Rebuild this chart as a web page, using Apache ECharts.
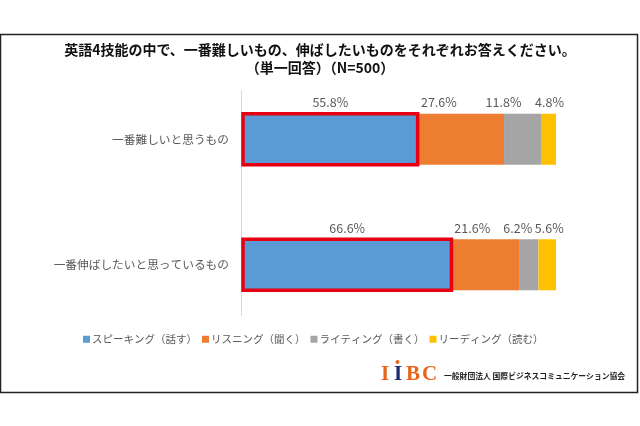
<!DOCTYPE html>
<html>
<head>
<meta charset="utf-8">
<script src="https://cdn.jsdelivr.net/npm/echarts@6/dist/echarts.min.js"></script>
<style>
html, body { margin: 0; padding: 0; background: #fff; }
#main { width: 640px; height: 426px; }
</style>
</head>
<body>
<div id="main"></div>
<script>
var categories = ['一番難しいと思うもの', '一番伸ばしたいと思っているもの'];
var speaking = [55.8, 66.6];
var listening = [27.6, 21.6];
var writing = [11.8, 6.2];
var reading = [4.8, 5.6];
var seriesNames = ['スピーキング（話す）', 'リスニング（聞く）', 'ライティング（書く）', 'リーディング（読む）'];
var colors = ['#5b9bd5', '#ed7d31', '#a5a5a5', '#ffc000'];
var titleText = '英語4技能の中で、一番難しいもの、伸ばしたいものをそれぞれお答えください。\n（単一回答）（N=500）';
var orgName = '一般財団法人 国際ビジネスコミュニケーション協会';

var font = '"Noto Sans CJK JP", "Liberation Sans", sans-serif';
var barHeight = 51;

// ラベルは棒の中央からずらしてある（元の図の通り）
var labelShift = [
    [[0, 0], [0, 0]],
    [[-22, 0], [-13, 0]],
    [[-19, 0], [-11, 0]],
    [[1, 0], [2, 0]]
];

function makeSeries(idx, values) {
    return {
        name: seriesNames[idx],
        type: 'bar',
        stack: 'total',
        barWidth: barHeight,
        itemStyle: { color: colors[idx] },
        data: values.map(function (v, i) {
            return { value: v, label: { offset: labelShift[idx][i] } };
        }),
        label: {
            show: true,
            position: 'top',
            distance: 5,
            color: '#595959',
            fontSize: 12.5,
            fontFamily: font,
            formatter: function (p) { return p.value.toFixed(1) + '%'; }
        }
    };
}

// スピーキングの棒を囲む赤枠
var redBox = {
    type: 'custom',
    name: 'redBox',
    z: 5,
    silent: true,
    clip: false,
    data: speaking.map(function (v, i) { return [v, i]; }),
    encode: { x: 0, y: 1 },
    renderItem: function (params, api) {
        var start = api.coord([0, api.value(1)]);
        var end = api.coord([api.value(0), api.value(1)]);
        return {
            type: 'rect',
            shape: { x: start[0], y: start[1] - barHeight / 2, width: end[0] - start[0], height: barHeight },
            style: { fill: 'none', stroke: '#e60012', lineWidth: 3.5 }
        };
    }
};

function logoChar(ch, x, color) {
    return {
        type: 'text',
        left: x,
        top: 364,
        style: { text: ch, fill: color, font: 'bold 21px "Liberation Serif", serif' }
    };
}

var chart = echarts.init(document.getElementById('main'));
chart.setOption({
    animation: false,
    backgroundColor: '#fff',
    title: {
        text: titleText,
        left: 'center',
        top: 36,
        textStyle: { color: '#111', fontSize: 14, fontWeight: 'bold', fontFamily: font, lineHeight: 18 }
    },
    grid: { left: 243, top: 76.5, width: 313, height: 251 },
    xAxis: { type: 'value', min: 0, max: 100, show: false },
    yAxis: {
        type: 'category',
        inverse: true,
        data: categories,
        axisLine: { show: false },
        axisTick: { show: false },
        axisLabel: { color: '#595959', fontSize: 11.7, margin: 14, fontFamily: font }
    },
    legend: {
        top: 329,
        left: 78,
        itemWidth: 7,
        itemHeight: 7,
        itemGap: 5,
        icon: 'rect',
        textStyle: { color: '#595959', fontSize: 10.5, fontFamily: font, padding: [0, 0, 0, -3] },
        data: seriesNames
    },
    series: [
        makeSeries(0, speaking),
        makeSeries(1, listening),
        makeSeries(2, writing),
        makeSeries(3, reading),
        redBox
    ],
    graphic: [
        // 外枠
        { type: 'rect', shape: { x: 0.5, y: 34.5, width: 637, height: 358 }, style: { fill: 'none', stroke: '#222', lineWidth: 1.5 }, silent: true },
        // 縦軸の線
        { type: 'line', shape: { x1: 241.5, y1: 90, x2: 241.5, y2: 316 }, style: { stroke: '#d9d9d9', lineWidth: 1 }, z: 0 },
        // ロゴ
        logoChar('I', 381, '#e8641b'),
        logoChar('I', 394, '#1b2a6b'),
        logoChar('B', 406, '#e8641b'),
        logoChar('C', 422, '#e8641b'),
        { type: 'circle', shape: { cx: 397.5, cy: 362, r: 2 }, style: { fill: '#e8641b' } },
        {
            type: 'text',
            left: 444,
            top: 372,
            style: { text: orgName, fill: '#222', font: 'bold 7.8px "Noto Sans CJK JP", sans-serif' }
        }
    ]
});
</script>
</body>
</html>
